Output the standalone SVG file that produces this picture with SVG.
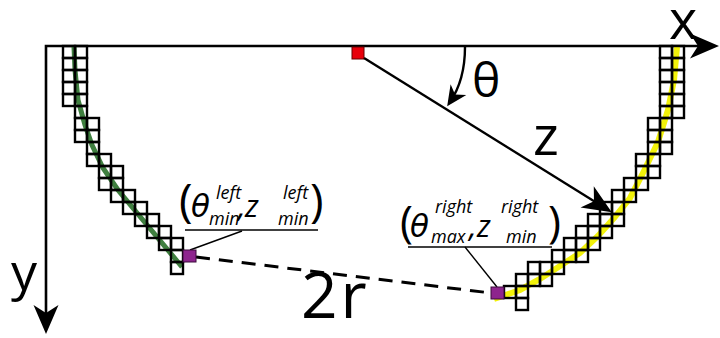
<svg xmlns="http://www.w3.org/2000/svg" width="720" height="338" viewBox="0 0 720 338">
<style>
.cell{fill:none;stroke:#000;stroke-width:2.4}
.ax{fill:none;stroke:#000;stroke-width:2.6}
.t{font-family:"Open Sans","Noto Sans",sans-serif;fill:#000}
.lbl{font-family:"Open Sans","Noto Sans",sans-serif;font-style:italic;fill:#000}
.p{font-style:normal;font-size:46px}
.g{font-family:"DejaVu Sans",sans-serif;font-size:31px}
.z{font-size:31px}
.s{font-size:18px}
.lead{stroke:#000;stroke-width:1.4;fill:none}
</style>
<defs>
<marker id="big" markerUnits="userSpaceOnUse" orient="auto-start-reverse" refX="0" refY="0" markerWidth="40" markerHeight="40" overflow="visible">
<path d="M8,0 L-21,-12.5 L-13,0 L-21,12.5 Z" fill="#000"/>
</marker>
<marker id="small" markerUnits="userSpaceOnUse" orient="auto" refX="0" refY="0" markerWidth="30" markerHeight="30" overflow="visible">
<path d="M5,0 L-15,-9.5 L-9,0 L-15,9.5 Z" fill="#000"/>
</marker>
</defs>
<rect width="720" height="338" fill="#fff"/>

<g id="axes">
<path class="ax" d="M46,326 L46,46 L711,46" marker-start="url(#big)" marker-end="url(#big)"/>
<text class="t" x="669" y="39" font-size="54">x</text>
<text class="t" x="11" y="290" font-size="52">y</text>
</g>

<g id="left-curve">
<path d="M74,47 L75,70 L78,100 L85,125 L92,145 L103,168 L118,190 L182,267" fill="none" stroke="#3f7f3f" stroke-width="5"/>
<rect class="cell" x="63" y="46" width="12" height="12"/><rect class="cell" x="75" y="46" width="12" height="12"/>
<rect class="cell" x="63" y="58" width="12" height="12"/><rect class="cell" x="75" y="58" width="12" height="12"/>
<rect class="cell" x="63" y="70" width="12" height="12"/><rect class="cell" x="75" y="70" width="12" height="12"/>
<rect class="cell" x="63" y="82" width="12" height="12"/><rect class="cell" x="75" y="82" width="12" height="12"/>
<rect class="cell" x="63" y="94" width="12" height="12"/><rect class="cell" x="75" y="94" width="12" height="12"/>
<rect class="cell" x="75" y="106" width="12" height="12"/>
<rect class="cell" x="75" y="118" width="12" height="12"/><rect class="cell" x="87" y="118" width="12" height="12"/>
<rect class="cell" x="75" y="130" width="12" height="12"/><rect class="cell" x="87" y="130" width="12" height="12"/>
<rect class="cell" x="87" y="142" width="12" height="12"/>
<rect class="cell" x="87" y="154" width="12" height="12"/><rect class="cell" x="99" y="154" width="12" height="12"/>
<rect class="cell" x="99" y="166" width="12" height="12"/><rect class="cell" x="111" y="166" width="12" height="12"/>
<rect class="cell" x="99" y="178" width="12" height="12"/><rect class="cell" x="111" y="178" width="12" height="12"/>
<rect class="cell" x="111" y="190" width="12" height="12"/><rect class="cell" x="123" y="190" width="12" height="12"/>
<rect class="cell" x="123" y="202" width="12" height="12"/><rect class="cell" x="135" y="202" width="12" height="12"/>
<rect class="cell" x="135" y="214" width="12" height="12"/><rect class="cell" x="147" y="214" width="12" height="12"/>
<rect class="cell" x="147" y="226" width="12" height="12"/><rect class="cell" x="159" y="226" width="12" height="12"/>
<rect class="cell" x="159" y="238" width="12" height="12"/><rect class="cell" x="171" y="238" width="12" height="12"/>
<rect class="cell" x="171" y="250" width="12" height="12"/>
<rect class="cell" x="171" y="262" width="12" height="12"/>
</g>

<g id="right-curve">
<path d="M494,299 L520,290 L540,279 L560,266 L580,253 L598,236 L614,218 L630,198 L642,175 L658,142 L668,110 L674,80 L677,47" fill="none" stroke="#f2f20a" stroke-width="6"/>
<rect class="cell" x="660" y="46" width="12" height="12"/><rect class="cell" x="672" y="46" width="12" height="12"/>
<rect class="cell" x="660" y="58" width="12" height="12"/><rect class="cell" x="672" y="58" width="12" height="12"/>
<rect class="cell" x="660" y="70" width="12" height="12"/><rect class="cell" x="672" y="70" width="12" height="12"/>
<rect class="cell" x="660" y="82" width="12" height="12"/><rect class="cell" x="672" y="82" width="12" height="12"/>
<rect class="cell" x="660" y="94" width="12" height="12"/><rect class="cell" x="672" y="94" width="12" height="12"/>
<rect class="cell" x="660" y="106" width="12" height="12"/><rect class="cell" x="672" y="106" width="12" height="12"/>
<rect class="cell" x="648" y="118" width="12" height="12"/><rect class="cell" x="660" y="118" width="12" height="12"/>
<rect class="cell" x="648" y="130" width="12" height="12"/><rect class="cell" x="660" y="130" width="12" height="12"/>
<rect class="cell" x="648" y="142" width="12" height="12"/><rect class="cell" x="660" y="142" width="12" height="12"/>
<rect class="cell" x="636" y="154" width="12" height="12"/><rect class="cell" x="648" y="154" width="12" height="12"/>
<rect class="cell" x="636" y="166" width="12" height="12"/><rect class="cell" x="648" y="166" width="12" height="12"/>
<rect class="cell" x="624" y="178" width="12" height="12"/><rect class="cell" x="636" y="178" width="12" height="12"/>
<rect class="cell" x="612" y="190" width="12" height="12"/><rect class="cell" x="624" y="190" width="12" height="12"/>
<rect class="cell" x="600" y="202" width="12" height="12"/><rect class="cell" x="612" y="202" width="12" height="12"/>
<rect class="cell" x="588" y="214" width="12" height="12"/><rect class="cell" x="600" y="214" width="12" height="12"/><rect class="cell" x="612" y="214" width="12" height="12"/>
<rect class="cell" x="576" y="226" width="12" height="12"/><rect class="cell" x="588" y="226" width="12" height="12"/><rect class="cell" x="600" y="226" width="12" height="12"/>
<rect class="cell" x="564" y="238" width="12" height="12"/><rect class="cell" x="576" y="238" width="12" height="12"/><rect class="cell" x="588" y="238" width="12" height="12"/>
<rect class="cell" x="552" y="250" width="12" height="12"/><rect class="cell" x="564" y="250" width="12" height="12"/><rect class="cell" x="576" y="250" width="12" height="12"/>
<rect class="cell" x="528" y="262" width="12" height="12"/><rect class="cell" x="540" y="262" width="12" height="12"/><rect class="cell" x="552" y="262" width="12" height="12"/>
<rect class="cell" x="516" y="274" width="12" height="12"/><rect class="cell" x="528" y="274" width="12" height="12"/><rect class="cell" x="540" y="274" width="12" height="12"/>
<rect class="cell" x="504" y="286" width="12" height="12"/><rect class="cell" x="516" y="286" width="12" height="12"/>
<rect class="cell" x="516" y="298" width="12" height="12"/>
</g>

<g id="origin-point">
<rect x="352" y="47" width="12" height="12" fill="#e8000b" stroke="#600" stroke-width="1"/>
</g>

<g id="connectors">
<line x1="364" y1="58" x2="605" y2="208" stroke="#000" stroke-width="2.4" marker-end="url(#big)"/>
<path d="M465,47 Q465,80 450,102" fill="none" stroke="#000" stroke-width="2.4" marker-end="url(#small)"/>
<line x1="196" y1="257" x2="491" y2="293" stroke="#000" stroke-width="3" stroke-dasharray="14 9"/>
<line class="lead" x1="242" y1="231" x2="190" y2="250"/>
<line class="lead" x1="465" y1="247" x2="497" y2="287"/>
</g>

<g id="left-endpoint">
<rect x="183" y="250" width="13" height="12" fill="#8e248e" stroke="#3a0a3a" stroke-width="1"/>
</g>
<g id="right-endpoint">
<rect x="491" y="287" width="13" height="12" fill="#8e248e" stroke="#3a0a3a" stroke-width="1"/>
</g>

<g id="vector-labels">
<text class="t" x="472" y="97" font-size="48">θ</text>
<text class="t" x="533" y="155" font-size="55">z</text>
<text class="t" x="301" y="318" font-size="64" letter-spacing="3">2r</text>
</g>

<g id="label-left">
<text class="lbl"><tspan class="p" x="179" y="217">(</tspan><tspan class="g" x="191" y="217">θ</tspan><tspan class="s" x="216" y="199">left</tspan><tspan class="s" x="209" y="225">min</tspan><tspan class="z" x="238" y="217">,</tspan><tspan class="z" x="245" y="217">z</tspan><tspan class="s" x="283" y="199">left</tspan><tspan class="s" x="278" y="225">min</tspan><tspan class="p" x="310" y="217">)</tspan></text>
<line x1="185" y1="230" x2="318" y2="230" stroke="#000" stroke-width="1.5"/>
</g>

<g id="label-right">
<text class="lbl"><tspan class="p" x="400" y="237" style="font-size:44px">(</tspan><tspan class="g" x="410" y="237">θ</tspan><tspan class="s" x="435" y="213">right</tspan><tspan class="s" x="431" y="243">max</tspan><tspan class="z" x="469" y="237">,</tspan><tspan class="z" x="477" y="237">z</tspan><tspan class="s" x="501" y="213">right</tspan><tspan class="s" x="506" y="243">min</tspan><tspan class="p" x="548" y="237" style="font-size:44px">)</tspan></text>
<line x1="408" y1="247" x2="552" y2="247" stroke="#000" stroke-width="1.5"/>
</g>
</svg>
